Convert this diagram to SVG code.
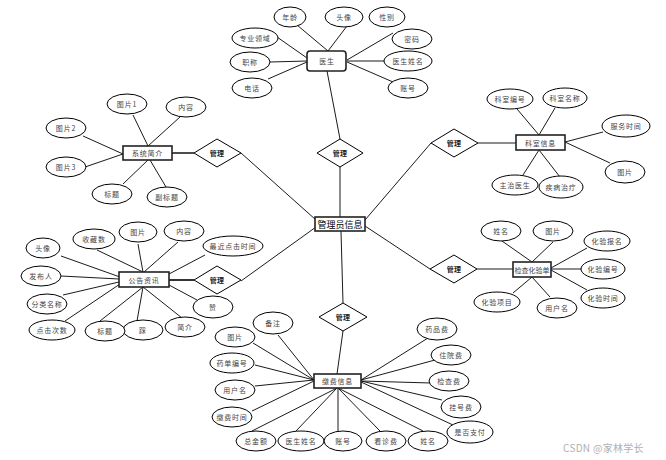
<svg xmlns="http://www.w3.org/2000/svg" width="666" height="460" viewBox="0 0 666 460">
<style>
.e{fill:#fff;stroke:#000;stroke-width:1}
.r{fill:#fff;stroke:#222;stroke-width:1.6}
.d{fill:#fff;stroke:#000;stroke-width:1}
.c line{stroke:#000;stroke-width:0.9}
text{font-family:"Noto Sans CJK SC","Noto Sans",sans-serif;font-size:7px;fill:#444;text-anchor:middle;dominant-baseline:central;letter-spacing:0.8px}
.dt{font-weight:bold;fill:#222;letter-spacing:0.3px}
.big{font-size:9px;fill:#000;letter-spacing:0}
.wm{font-size:10px;fill:#b0b0b0;text-anchor:start;letter-spacing:0.3px}
</style>
<rect width="666" height="460" fill="#fff"/>
<g class="c" id="connectors">
<!-- doctor -->
<line x1="297" y1="25" x2="328" y2="51"/>
<line x1="347" y1="26" x2="328" y2="51"/>
<line x1="277" y1="37" x2="307" y2="58"/>
<line x1="270" y1="62" x2="307" y2="61"/>
<line x1="268" y1="79" x2="307" y2="62"/>
<line x1="393" y1="33" x2="347" y2="60"/>
<line x1="385" y1="61" x2="347" y2="61"/>
<line x1="393" y1="82" x2="347" y2="62"/>
<line x1="327" y1="71" x2="340" y2="139"/>
<!-- admin -->
<line x1="340" y1="167" x2="340" y2="217"/>
<line x1="241" y1="153" x2="316" y2="220"/>
<line x1="241" y1="281" x2="316" y2="227"/>
<line x1="431" y1="143" x2="365" y2="220"/>
<line x1="430" y1="269" x2="365" y2="226"/>
<line x1="341" y1="231" x2="343" y2="303"/>
<!-- system intro -->
<line x1="172" y1="153" x2="194" y2="153" style="stroke-width:1.4"/>
<line x1="148" y1="146" x2="133" y2="115"/>
<line x1="148" y1="146" x2="180" y2="117"/>
<line x1="123" y1="154" x2="83" y2="136"/>
<line x1="123" y1="154" x2="85" y2="167"/>
<line x1="148" y1="160" x2="123" y2="184"/>
<line x1="150" y1="160" x2="166" y2="187"/>
<!-- department -->
<line x1="478" y1="143" x2="516" y2="143"/>
<line x1="539" y1="135" x2="517" y2="109"/>
<line x1="539" y1="135" x2="555" y2="108"/>
<line x1="565" y1="142" x2="603" y2="132"/>
<line x1="565" y1="142" x2="610" y2="163"/>
<line x1="539" y1="150" x2="523" y2="175"/>
<line x1="539" y1="150" x2="560" y2="177"/>
<!-- notice -->
<line x1="169" y1="280" x2="194" y2="280" style="stroke-width:1.6"/>
<line x1="61" y1="256" x2="120" y2="277"/>
<line x1="61" y1="276" x2="119" y2="279"/>
<line x1="63" y1="295" x2="119" y2="282"/>
<line x1="65" y1="321" x2="120" y2="284"/>
<line x1="97" y1="250" x2="143" y2="272"/>
<line x1="138" y1="244" x2="143" y2="272"/>
<line x1="178" y1="242" x2="144" y2="272"/>
<line x1="205" y1="255" x2="169" y2="274"/>
<line x1="197" y1="300" x2="169" y2="285"/>
<line x1="182" y1="318" x2="143" y2="287"/>
<line x1="137" y1="321" x2="143" y2="287"/>
<line x1="100" y1="321" x2="143" y2="287"/>
<!-- lab -->
<line x1="477" y1="269" x2="513" y2="269"/>
<line x1="532" y1="262" x2="502" y2="241"/>
<line x1="532" y1="262" x2="553" y2="242"/>
<line x1="551" y1="268" x2="587" y2="248"/>
<line x1="551" y1="269" x2="582" y2="269"/>
<line x1="551" y1="270" x2="587" y2="290"/>
<line x1="532" y1="277" x2="513" y2="293"/>
<line x1="532" y1="277" x2="550" y2="297"/>
<!-- payment -->
<line x1="343" y1="331" x2="337" y2="374"/>
<line x1="278" y1="335" x2="314" y2="380"/>
<line x1="253" y1="343" x2="314" y2="380"/>
<line x1="255" y1="365" x2="314" y2="380"/>
<line x1="255" y1="386" x2="314" y2="380"/>
<line x1="252" y1="411" x2="314" y2="381"/>
<line x1="252" y1="431" x2="337" y2="388"/>
<line x1="296" y1="431" x2="337" y2="388"/>
<line x1="338" y1="431" x2="338" y2="388"/>
<line x1="380" y1="431" x2="338" y2="388"/>
<line x1="423" y1="431" x2="338" y2="388"/>
<line x1="453" y1="425" x2="361" y2="382"/>
<line x1="442" y1="400" x2="361" y2="381"/>
<line x1="431" y1="383" x2="361" y2="381"/>
<line x1="435" y1="360" x2="361" y2="380"/>
<line x1="428" y1="338" x2="361" y2="380"/>
</g>

<g id="admin"><rect class="r" x="315" y="217" width="50" height="14"/><text class="big" x="340" y="224">管理员信息</text></g>

<g id="rel-top"><polygon class="d" points="340,139 363,153 340,167 317,153"/><text class="dt" x="340" y="153">管理</text></g>
<g id="rel-left1"><polygon class="d" points="217,139 241,153 217,167 194,153"/><text class="dt" x="217" y="153">管理</text></g>
<g id="rel-right1"><polygon class="d" points="454,129 478,143 454,157 431,143"/><text class="dt" x="454" y="143">管理</text></g>
<g id="rel-left2"><polygon class="d" points="217,266 241,280 217,294 194,280"/><text class="dt" x="217" y="280">管理</text></g>
<g id="rel-right2"><polygon class="d" points="454,255 477,269 454,283 430,269"/><text class="dt" x="454" y="269">管理</text></g>
<g id="rel-bottom"><polygon class="d" points="343,303 367,317 343,331 319,317"/><text class="dt" x="343" y="317">管理</text></g>

<g id="doctor"><rect class="r" x="307" y="51" width="39" height="20" rx="3"/><text x="327" y="61">医生</text></g>
<g id="d-age"><ellipse class="e" cx="290" cy="17" rx="16" ry="10"/><text x="290" y="17">年龄</text></g>
<g id="d-avatar"><ellipse class="e" cx="344" cy="17" rx="19" ry="10"/><text x="344" y="17">头像</text></g>
<g id="d-gender"><ellipse class="e" cx="387" cy="17" rx="18" ry="10"/><text x="387" y="17">性别</text></g>
<g id="d-field"><ellipse class="e" cx="255" cy="38" rx="23" ry="10"/><text x="255" y="38">专业领域</text></g>
<g id="d-title"><ellipse class="e" cx="250" cy="62" rx="20" ry="10"/><text x="250" y="62">职称</text></g>
<g id="d-phone"><ellipse class="e" cx="252" cy="88" rx="20" ry="10"/><text x="252" y="88">电话</text></g>
<g id="d-pwd"><ellipse class="e" cx="412" cy="39" rx="20" ry="10"/><text x="412" y="39">密码</text></g>
<g id="d-name"><ellipse class="e" cx="408" cy="61" rx="24" ry="10"/><text x="408" y="61">医生姓名</text></g>
<g id="d-acct"><ellipse class="e" cx="408" cy="88" rx="20" ry="10"/><text x="408" y="88">账号</text></g>

<g id="intro"><rect class="r" x="123" y="146" width="49" height="14"/><text x="147.5" y="153">系统简介</text></g>
<g id="i-p1"><ellipse class="e" cx="127" cy="104" rx="20" ry="10"/><text x="127" y="104">图片1</text></g>
<g id="i-content"><ellipse class="e" cx="186" cy="107" rx="20" ry="10"/><text x="186" y="107">内容</text></g>
<g id="i-p2"><ellipse class="e" cx="66" cy="128" rx="20" ry="10"/><text x="66" y="128">图片2</text></g>
<g id="i-p3"><ellipse class="e" cx="66" cy="167" rx="20" ry="10"/><text x="66" y="167">图片3</text></g>
<g id="i-title"><ellipse class="e" cx="112" cy="194" rx="20" ry="10"/><text x="112" y="194">标题</text></g>
<g id="i-sub"><ellipse class="e" cx="167" cy="197" rx="20" ry="10"/><text x="167" y="197">副标题</text></g>

<g id="dept"><rect class="r" x="516" y="135" width="49" height="15"/><text x="540.5" y="142.5">科室信息</text></g>
<g id="k-no"><ellipse class="e" cx="510" cy="99" rx="23" ry="10"/><text x="510" y="99">科室编号</text></g>
<g id="k-name"><ellipse class="e" cx="565" cy="98" rx="22" ry="10"/><text x="565" y="98">科室名称</text></g>
<g id="k-time"><ellipse class="e" cx="626" cy="126" rx="24" ry="11"/><text x="626" y="126">服务时间</text></g>
<g id="k-pic"><ellipse class="e" cx="625" cy="172" rx="20" ry="11"/><text x="625" y="172">图片</text></g>
<g id="k-doc"><ellipse class="e" cx="515" cy="185" rx="23" ry="10"/><text x="515" y="185">主治医生</text></g>
<g id="k-treat"><ellipse class="e" cx="561" cy="187" rx="22" ry="11"/><text x="561" y="187">疾病治疗</text></g>

<g id="notice"><rect class="r" x="119" y="272" width="50" height="15"/><text x="144" y="279.5">公告资讯</text></g>
<g id="n-avatar"><ellipse class="e" cx="43" cy="248" rx="17" ry="10"/><text x="43" y="248">头像</text></g>
<g id="n-pub"><ellipse class="e" cx="41" cy="276" rx="20" ry="10"/><text x="41" y="276">发布人</text></g>
<g id="n-cat"><ellipse class="e" cx="47" cy="304" rx="20" ry="10"/><text x="47" y="304">分类名称</text></g>
<g id="n-clicks"><ellipse class="e" cx="52" cy="330" rx="23" ry="10"/><text x="52" y="330">点击次数</text></g>
<g id="n-fav"><ellipse class="e" cx="94" cy="239" rx="21" ry="10"/><text x="94" y="239">收藏数</text></g>
<g id="n-pic"><ellipse class="e" cx="138" cy="232" rx="19" ry="10"/><text x="138" y="232">图片</text></g>
<g id="n-content"><ellipse class="e" cx="184" cy="231" rx="20" ry="10"/><text x="184" y="231">内容</text></g>
<g id="n-last"><ellipse class="e" cx="233" cy="246" rx="30" ry="10"/><text x="233" y="246">最近点击时间</text></g>
<g id="n-like"><ellipse class="e" cx="213" cy="307" rx="20" ry="11"/><text x="213" y="307">赞</text></g>
<g id="n-intro"><ellipse class="e" cx="185" cy="327" rx="20" ry="10"/><text x="185" y="327">简介</text></g>
<g id="n-dislike"><ellipse class="e" cx="143" cy="330" rx="20" ry="10"/><text x="143" y="330">踩</text></g>
<g id="n-title"><ellipse class="e" cx="105" cy="331" rx="20" ry="10"/><text x="105" y="331">标题</text></g>

<g id="lab"><rect class="r" x="513" y="262" width="38" height="15"/><text x="532" y="269.5" style="letter-spacing:0">检查化验单</text></g>
<g id="l-name"><ellipse class="e" cx="501" cy="231" rx="20" ry="10"/><text x="501" y="231">姓名</text></g>
<g id="l-pic"><ellipse class="e" cx="553" cy="231" rx="20" ry="10"/><text x="553" y="231">图片</text></g>
<g id="l-reg"><ellipse class="e" cx="607" cy="241" rx="23" ry="10"/><text x="607" y="241">化验报名</text></g>
<g id="l-no"><ellipse class="e" cx="603" cy="269" rx="22" ry="10"/><text x="603" y="269">化验编号</text></g>
<g id="l-time"><ellipse class="e" cx="603" cy="298" rx="22" ry="10"/><text x="603" y="298">化验时间</text></g>
<g id="l-item"><ellipse class="e" cx="497" cy="302" rx="23" ry="10"/><text x="497" y="302">化验项目</text></g>
<g id="l-user"><ellipse class="e" cx="557" cy="308" rx="20" ry="10"/><text x="557" y="308">用户名</text></g>

<g id="pay"><rect class="r" x="314" y="374" width="47" height="14"/><text x="337.5" y="381">缴费信息</text></g>
<g id="p-note"><ellipse class="e" cx="273" cy="323" rx="20" ry="11"/><text x="273" y="323">备注</text></g>
<g id="p-pic"><ellipse class="e" cx="235" cy="337" rx="20" ry="10"/><text x="235" y="337">图片</text></g>
<g id="p-no"><ellipse class="e" cx="232" cy="363" rx="22" ry="10"/><text x="232" y="363">药单编号</text></g>
<g id="p-user"><ellipse class="e" cx="235" cy="390" rx="20" ry="10"/><text x="235" y="390">用户名</text></g>
<g id="p-time"><ellipse class="e" cx="232" cy="417" rx="20" ry="10"/><text x="232" y="417">缴费时间</text></g>
<g id="p-total"><ellipse class="e" cx="256" cy="441" rx="20" ry="10"/><text x="256" y="441">总金额</text></g>
<g id="p-doc"><ellipse class="e" cx="301" cy="441" rx="23" ry="10"/><text x="301" y="441">医生姓名</text></g>
<g id="p-acct"><ellipse class="e" cx="343" cy="441" rx="19" ry="10"/><text x="343" y="441">账号</text></g>
<g id="p-visit"><ellipse class="e" cx="386" cy="441" rx="20" ry="10"/><text x="386" y="441">看诊费</text></g>
<g id="p-name"><ellipse class="e" cx="428" cy="441" rx="20" ry="10"/><text x="428" y="441">姓名</text></g>
<g id="p-paid"><ellipse class="e" cx="470" cy="432" rx="23" ry="11"/><text x="470" y="432">是否支付</text></g>
<g id="p-reg"><ellipse class="e" cx="461" cy="407" rx="20" ry="11"/><text x="461" y="407">挂号费</text></g>
<g id="p-check"><ellipse class="e" cx="449" cy="381" rx="20" ry="10"/><text x="449" y="381">检查费</text></g>
<g id="p-hosp"><ellipse class="e" cx="451" cy="355" rx="20" ry="10"/><text x="451" y="355">住院费</text></g>
<g id="p-drug"><ellipse class="e" cx="437" cy="329" rx="20" ry="11"/><text x="437" y="329">药品费</text></g>

<text class="wm" x="563" y="447">CSDN @家林学长</text>
</svg>
